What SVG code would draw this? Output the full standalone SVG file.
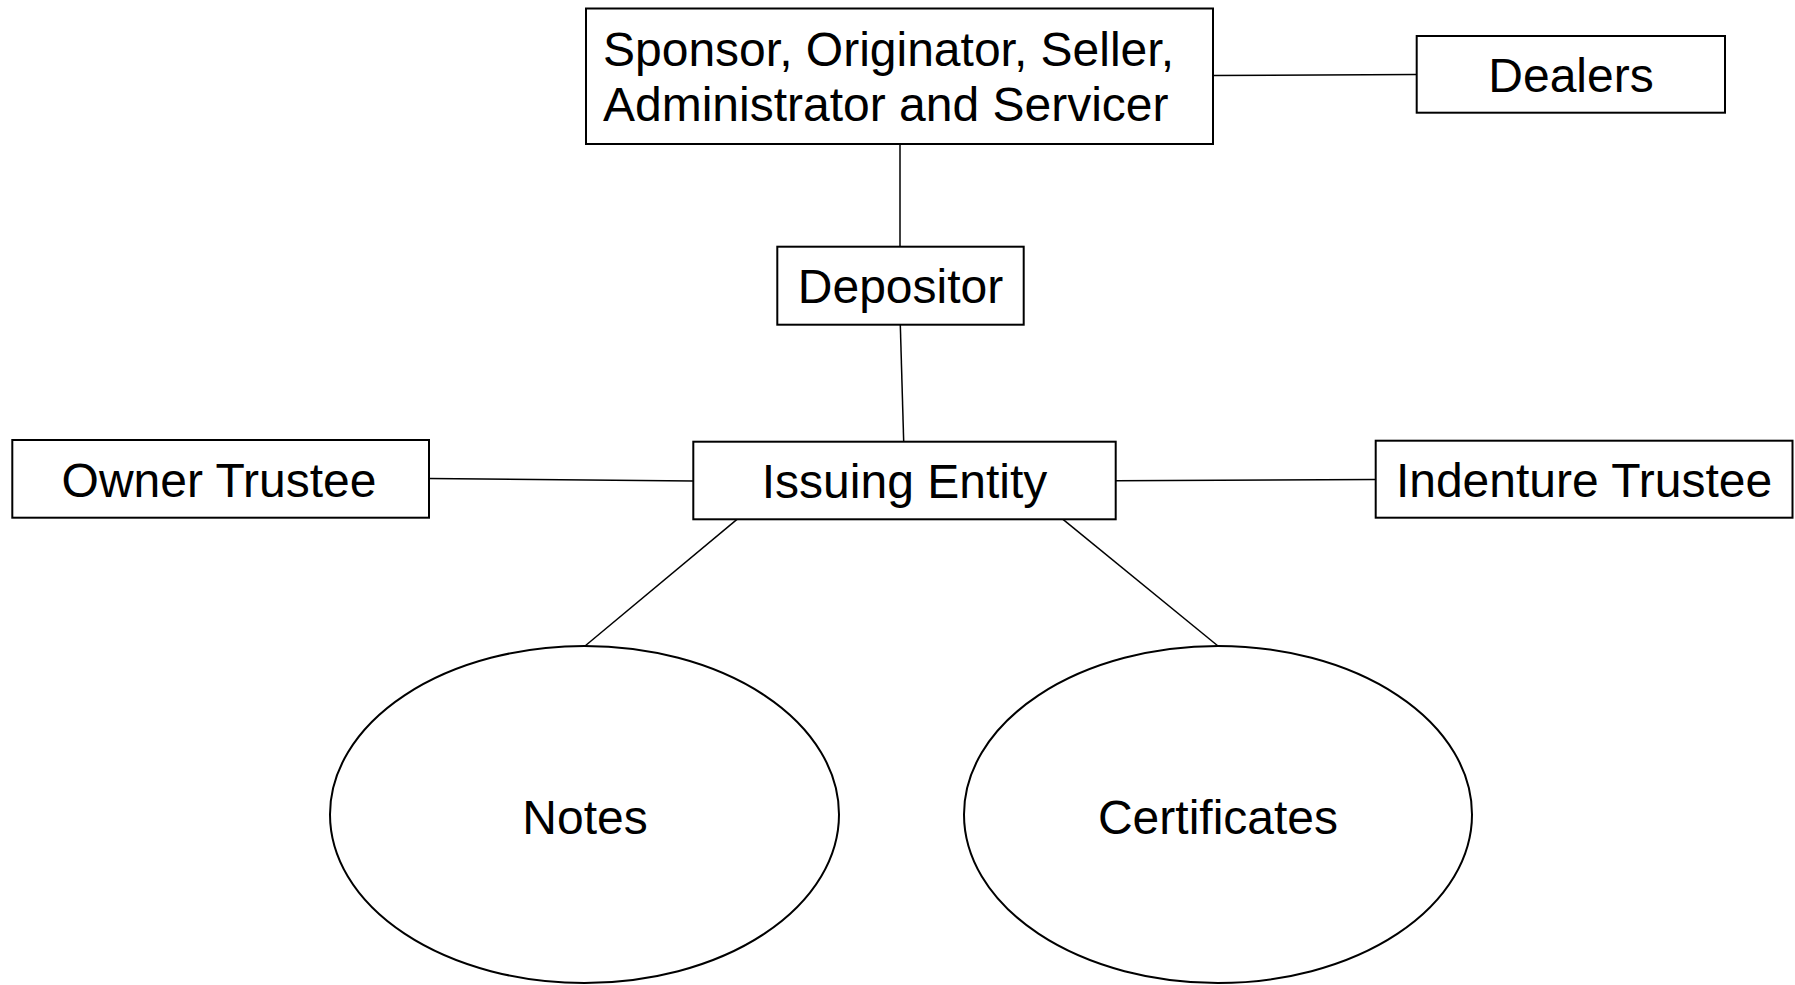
<svg xmlns="http://www.w3.org/2000/svg" width="1795" height="985" viewBox="0 0 1795 985">
<style>
  .box { fill: #ffffff; stroke: #000000; stroke-width: 2; }
  .ell { fill: #ffffff; stroke: #000000; stroke-width: 2; }
  .conn line { stroke: #000000; stroke-width: 1.5; fill: none; }
  text { font-family: "Liberation Sans", Arial, sans-serif; font-size: 48px; fill: #000000; }
  .c { text-anchor: middle; }
</style>
<rect width="1795" height="985" fill="#ffffff"/>
<g id="connectors" class="conn">
  <line x1="1213" y1="75.5" x2="1416.7" y2="74.5"/>
  <line x1="900" y1="144" x2="900" y2="246.7"/>
  <line x1="900.3" y1="324.7" x2="903.7" y2="441.7"/>
  <line x1="429" y1="478.5" x2="693.3" y2="481"/>
  <line x1="1115.7" y1="480.7" x2="1375.7" y2="479.5"/>
  <line x1="737" y1="519.3" x2="585" y2="646"/>
  <line x1="1063" y1="519.3" x2="1218" y2="646"/>
</g>
<g id="sponsor">
  <rect class="box" x="586" y="8.5" width="627" height="135.5"/>
  <text x="603" y="65.5">Sponsor, Originator, Seller,</text>
  <text x="603" y="120.5">Administrator and Servicer</text>
</g>
<g id="dealers">
  <rect class="box" x="1416.7" y="36" width="308.3" height="76.7"/>
  <text class="c" x="1571" y="92">Dealers</text>
</g>
<g id="depositor">
  <rect class="box" x="777.3" y="246.7" width="246.4" height="78"/>
  <text class="c" x="900.5" y="302.7">Depositor</text>
</g>
<g id="owner-trustee">
  <rect class="box" x="12.3" y="440" width="416.7" height="77.7"/>
  <text class="c" x="219" y="497">Owner Trustee</text>
</g>
<g id="issuing-entity">
  <rect class="box" x="693.3" y="441.7" width="422.4" height="77.6"/>
  <text class="c" x="904.5" y="498.3">Issuing Entity</text>
</g>
<g id="indenture-trustee">
  <rect class="box" x="1375.7" y="440.7" width="416.8" height="77"/>
  <text class="c" x="1584" y="497">Indenture Trustee</text>
</g>
<g id="notes">
  <ellipse class="ell" cx="584.5" cy="814.5" rx="254.5" ry="168.5"/>
  <text class="c" x="585" y="834">Notes</text>
</g>
<g id="certificates">
  <ellipse class="ell" cx="1218" cy="814.5" rx="254" ry="168.5"/>
  <text class="c" x="1218" y="834">Certificates</text>
</g>
</svg>
